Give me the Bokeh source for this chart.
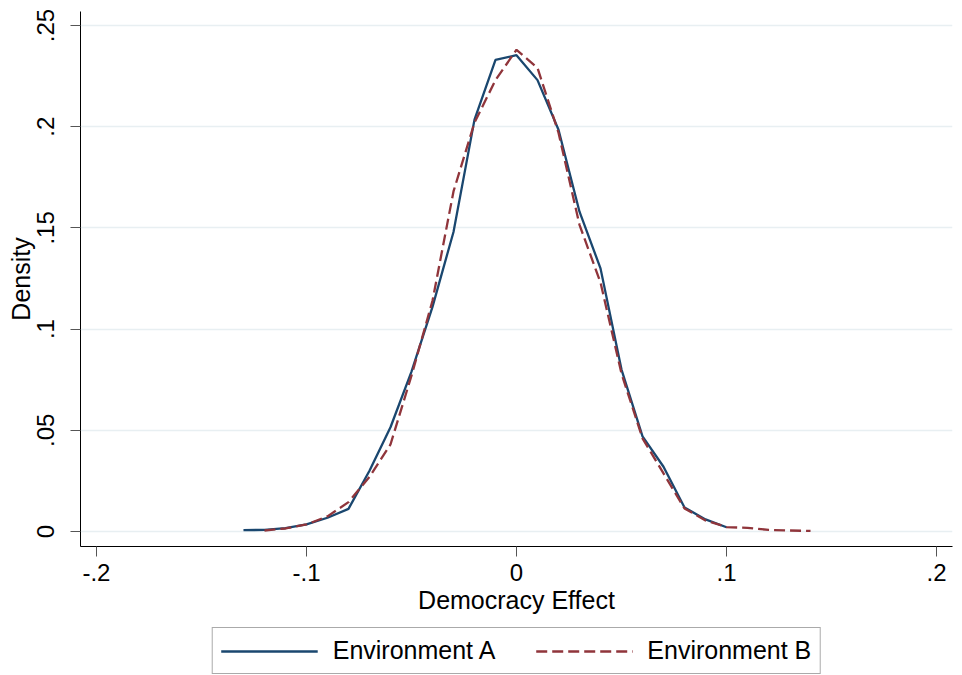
from bokeh.plotting import figure
from bokeh.models import Range1d, FixedTicker, Legend, LegendItem
from bokeh.layouts import column
from bokeh.embed import file_html
from bokeh.resources import INLINE

# Data
x_a = [-0.13, -0.12, -0.11, -0.10, -0.09, -0.08, -0.07, -0.06, -0.05, -0.04, -0.03, -0.02,
       -0.01, 0.00, 0.01, 0.02, 0.03, 0.04, 0.05, 0.06, 0.07, 0.08, 0.09, 0.10]
dens_a = [0.0007, 0.0008, 0.0017, 0.0035, 0.0068, 0.0112, 0.030, 0.0515, 0.079, 0.111, 0.148, 0.2035,
          0.233, 0.2353, 0.223, 0.1985, 0.158, 0.130, 0.080, 0.047, 0.032, 0.0119, 0.006, 0.0021]

x_b = [-0.12, -0.11, -0.10, -0.09, -0.08, -0.07, -0.06, -0.05, -0.04, -0.03, -0.02, -0.01, 0.00,
       0.01, 0.02, 0.03, 0.04, 0.05, 0.06, 0.07, 0.08, 0.09, 0.10, 0.11, 0.12, 0.13, 0.14]
dens_b = [0.0005, 0.0015, 0.0035, 0.0075, 0.0145, 0.027, 0.043, 0.077, 0.114, 0.168, 0.202, 0.223, 0.238,
          0.229, 0.197, 0.1515, 0.123, 0.078, 0.046, 0.0287, 0.0114, 0.0055, 0.0022, 0.0018, 0.0008, 0.0005, 0.0003]

x_ticks = [-0.2, -0.1, 0.0, 0.1, 0.2]
x_tick_labels = ["-.2", "-.1", "0", ".1", ".2"]
y_ticks = [0.0, 0.05, 0.1, 0.15, 0.2, 0.25]
y_tick_labels = ["0", ".05", ".1", ".15", ".2", ".25"]

series_names = ["Environment A", "Environment B"]
x_title = "Democracy Effect"
y_title = "Density"

FONT = "Liberation Sans"
FS_TICK = "24px"
FS_TEXT = "25px"
COL_A = "#1a476f"
COL_B = "#90353b"
DASH_B = "11 5"
LW = 2.3

p = figure(width=962, height=624, output_backend="svg", toolbar_location=None,
           x_range=Range1d(-0.2076, 0.2076), y_range=Range1d(-0.0074, 0.2569),
           min_border_left=80, min_border_right=10, min_border_top=11, min_border_bottom=78)
p.outline_line_color = None
p.background_fill_color = "white"
p.border_fill_color = "white"

p.line(x_a, dens_a, line_color=COL_A, line_width=LW)
p.line(x_b, dens_b, line_color=COL_B, line_width=LW, line_dash=DASH_B)

# axes
for ax in (p.xaxis[0], p.yaxis[0]):
    ax.axis_line_color = "black"
    ax.axis_line_width = 1
    ax.major_tick_line_color = "#555555"
    ax.major_tick_line_width = 1
    ax.major_tick_in = 0
    ax.major_tick_out = 10
    ax.minor_tick_line_color = None
    ax.major_label_text_font = FONT
    ax.major_label_text_font_size = FS_TICK
    ax.major_label_text_color = "black"
    ax.axis_label_text_font = FONT
    ax.axis_label_text_font_size = FS_TEXT
    ax.axis_label_text_font_style = "normal"
    ax.axis_label_text_color = "black"

p.xaxis.ticker = FixedTicker(ticks=x_ticks)
p.xaxis.major_label_overrides = {t: l for t, l in zip(x_ticks, x_tick_labels)}
p.xaxis.axis_label = x_title
p.xaxis.major_label_standoff = 7
p.xaxis.axis_label_standoff = 2

p.yaxis.ticker = FixedTicker(ticks=y_ticks)
p.yaxis.major_label_overrides = {t: l for t, l in zip(y_ticks, y_tick_labels)}
p.yaxis.axis_label = y_title
p.yaxis.major_label_orientation = "vertical"
p.yaxis.major_label_standoff = 16
p.yaxis.axis_label_standoff = 0

p.xgrid.grid_line_color = None
p.ygrid.grid_line_color = "#e8eff2"
p.ygrid.grid_line_width = 1.5
p.ygrid.ticker = FixedTicker(ticks=y_ticks)

# legend strip below the plot (its lines lie outside its own view; only the key shows)
q = figure(width=962, height=51, output_backend="svg", toolbar_location=None,
           x_range=Range1d(10, 11), y_range=Range1d(10, 11),
           x_axis_type=None, y_axis_type=None,
           min_border_left=80, min_border_right=10, min_border_top=0, min_border_bottom=0)
q.outline_line_color = None
q.background_fill_color = "white"
q.border_fill_color = "white"
q.xgrid.grid_line_color = None
q.ygrid.grid_line_color = None
ka = q.line(x_a, dens_a, line_color=COL_A, line_width=LW)
kb = q.line(x_b, dens_b, line_color=COL_B, line_width=LW, line_dash=DASH_B)

legend = Legend(items=[LegendItem(label=series_names[0], renderers=[ka]),
                       LegendItem(label=series_names[1], renderers=[kb])],
                orientation="horizontal", location="top_center",
                label_text_font=FONT, label_text_font_size=FS_TEXT, label_text_color="black",
                glyph_width=97, glyph_height=20, label_standoff=15, spacing=40,
                padding=8, margin=3,
                border_line_color="#555555", border_line_width=1,
                background_fill_color="white", background_fill_alpha=1.0)
q.add_layout(legend, "center")

layout = column(p, q, spacing=0)
open("out.html", "w").write(file_html(layout, INLINE))
